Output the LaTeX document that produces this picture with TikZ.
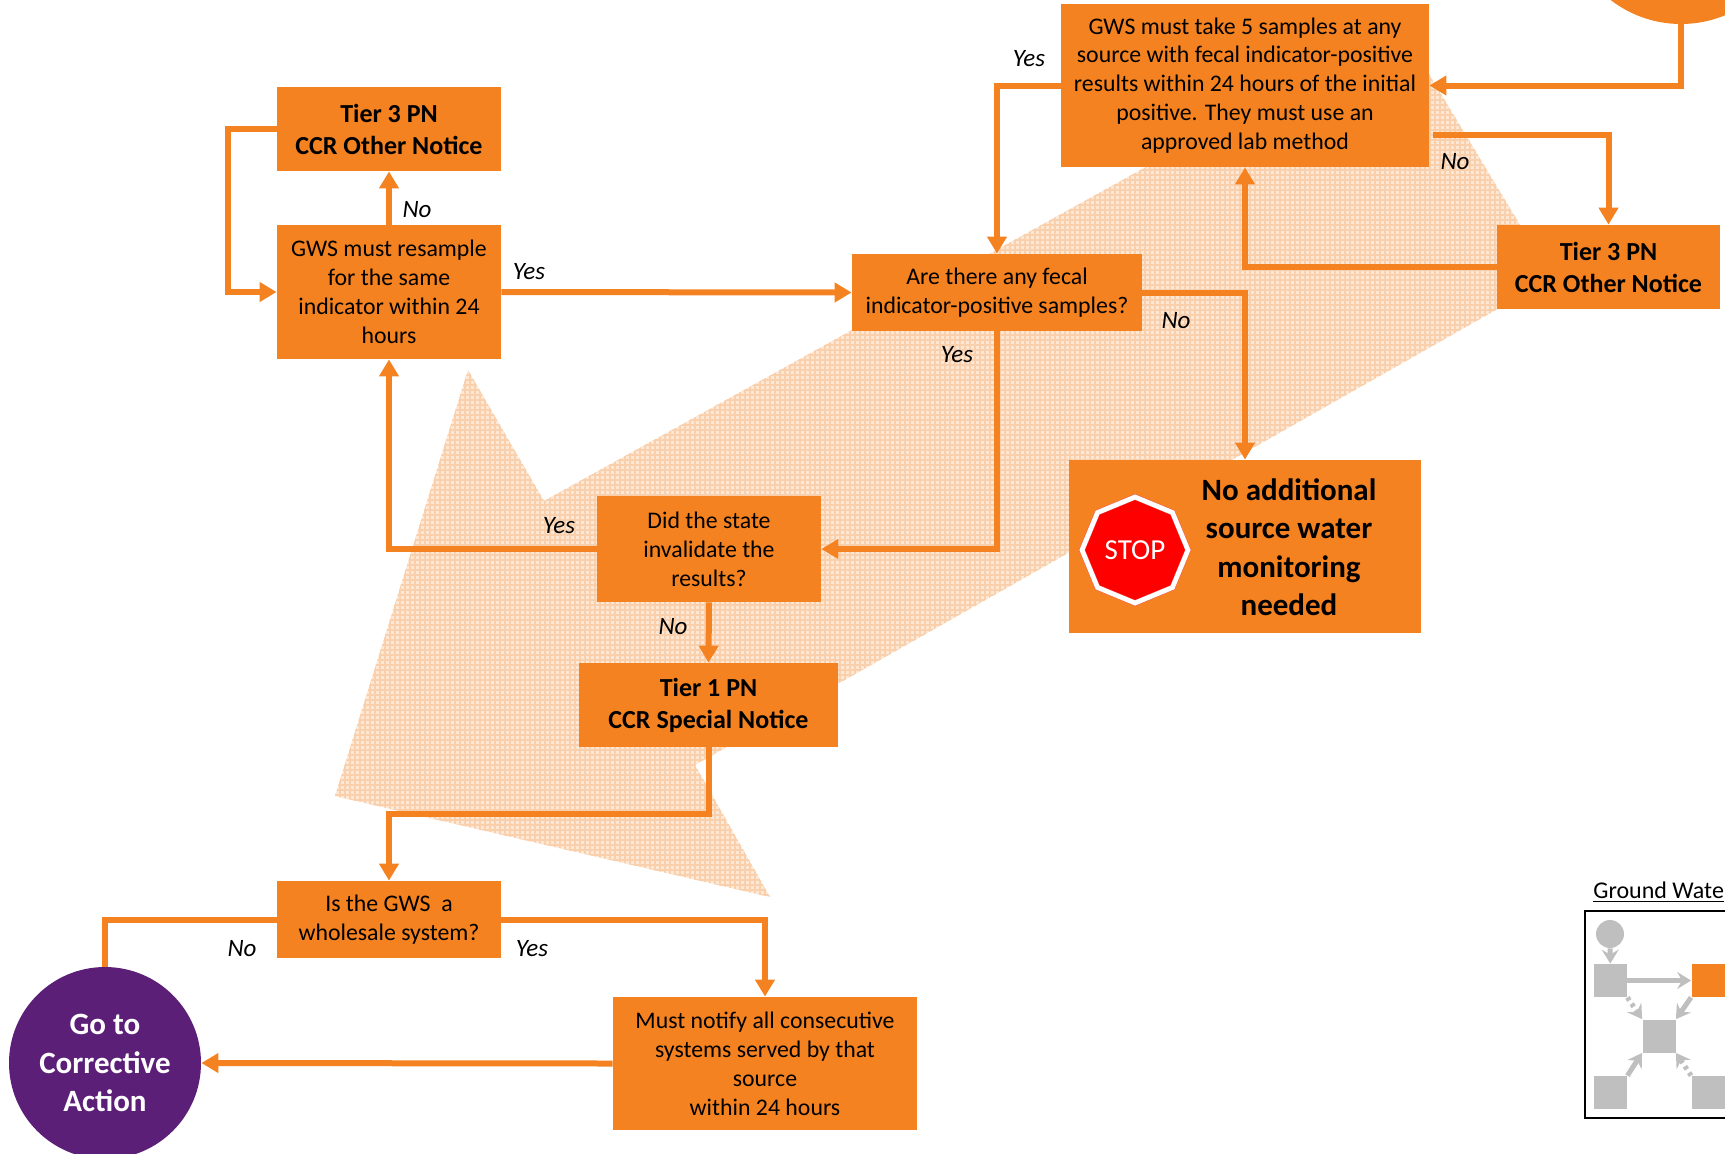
\documentclass[tikz,border=0pt]{standalone}
\usepackage{fontspec}
\setmainfont{Carlito}
\usetikzlibrary{arrows.meta,shapes.geometric}
\definecolor{org}{HTML}{F58220}
\definecolor{purp}{HTML}{5C1F78}
\definecolor{gry}{HTML}{BFBFBF}
\definecolor{patbase}{HTML}{FDE8D6}
\definecolor{patline}{HTML}{FAD0AC}
\definecolor{octedge}{HTML}{F05050}
\tikzset{
  x=0.5pt,y=-0.5pt,
  box/.style={fill=org,inner sep=0pt,align=center,text=black,font=\fontsize{11.9}{14.45}\selectfont},
  boldbox/.style={box,font=\fontsize{13}{16}\selectfont\bfseries},
  flow/.style={draw=org,line width=3pt,-{Triangle[width=9.5pt,length=8.5pt]}},
  plainflow/.style={draw=org,line width=3pt},
  lab/.style={font=\fontsize{12.5}{15}\selectfont\itshape,text=black,inner sep=0pt},
  gsq/.style={fill=gry,minimum size=16.5pt,inner sep=0pt},
  garrow/.style={draw=gry,line width=2.5pt,-{Stealth[width=8.5pt,length=7pt,inset=2.5pt]}},
  gdot/.style={garrow,dash pattern=on 1.8pt off 2pt},
}
\begin{document}
\begin{tikzpicture}
\useasboundingbox (0,0) rectangle (1725,1153);
\clip (0,0) rectangle (1725,1153);
% background star
\begin{scope}
  \path[clip] (468,370) -- (544,501) -- (1400,26) -- (1552,278) -- (695,765) -- (770,897) -- (335,796) -- cycle;
  \fill[patbase] (300,0) rectangle (1600,920);
  \foreach \i in {0,...,260} {
    \draw[patline,line width=1.25pt] ({300+5*\i},0) -- ({300+5*\i},920);
  }
  \foreach \i in {0,...,184} {
    \draw[patline,line width=1.25pt] (300,{5*\i}) -- (1600,{5*\i});
  }
\end{scope}
% nodes
\node[boldbox,minimum width=112pt,minimum height=42pt] (tierL) at (389,129) {Tier 3 PN\\CCR Other Notice};
\node[box,minimum width=112pt,minimum height=67pt] (resample) at (389,292) {GWS must resample\\for the same\\indicator within 24\\hours};
\node[box,minimum width=145pt,minimum height=38.5pt] (are) at (997,292.5) {Are there any fecal\\indicator-positive samples?};
\node[box,minimum width=184pt,minimum height=81.5pt] (take) at (1245,85.5) {GWS must take 5 samples at any\\source with fecal indicator-positive\\results within 24 hours of the initial\\positive. They must use an\\approved lab method};
\node[boldbox,minimum width=111.5pt,minimum height=42pt] (tierR) at (1608.5,267) {Tier 3 PN\\CCR Other Notice};
\node[box,minimum width=176pt,minimum height=86.5pt] (stopbox) at (1245,546.5) {};
\node[box,fill=none,font=\fontsize{15.5}{19.2}\selectfont\bfseries] (stoptext) at (1289,547) {No additional\\source water\\monitoring\\needed};
\node[regular polygon,regular polygon sides=8,shape border rotate=22.5,minimum size=53pt,inner sep=0pt,fill=red,draw=octedge,double=white,double distance=2.4pt,line width=0.2pt,text=white,font=\fontsize{14.5}{17}\selectfont] (octa) at (1135,550) {STOP};
\node[box,minimum width=112pt,minimum height=53pt] (did) at (709,549) {Did the state\\invalidate the\\results?};
\node[boldbox,minimum width=129.5pt,minimum height=42pt] (tierM) at (708.5,705) {Tier 1 PN\\CCR Special Notice};
\node[box,minimum width=112pt,minimum height=38.5pt] (isgws) at (389,919.5) {Is the GWS~~a\\wholesale system?};
\node[box,minimum width=152pt,minimum height=66.5pt] (notify) at (765,1063.5) {Must notify all consecutive\\systems served by that\\source\\within 24 hours};
\node[circle,fill=purp,minimum size=96pt,inner sep=0pt,align=center,text=white,font=\fontsize{15.5}{19.2}\selectfont\bfseries] (purple) at (105,1063) {Go to\\Corrective\\Action};
\node[circle,fill=org,minimum size=115pt,inner sep=0pt] (topcirc) at (1681,-91) {};
% connectors
\coordinate (takeout) at (1433,135);
\draw[flow] (tierL.west) -- ++(-49,0) |- (resample.west);
\draw[flow] (resample.north) -- (tierL.south);
\draw[flow] (resample.east) -- (are.west);
\draw[flow] (are.east) -| (stopbox.north);
\draw[flow] (are.south) |- (did.east);
\draw[flow] (take.west) -| (are.north);
\draw[flow] (topcirc.south) |- (take.east);
\draw[flow] (takeout) -| (tierR.north);
\draw[flow] (tierR.west) -| (take.south);
\draw[flow] (did.west) -| (resample.south);
\draw[flow] (did.south) -- (tierM.north);
\draw[flow] (tierM.south) -- ++(0,67) -| (isgws.north);
\draw[plainflow] (isgws.west) -| (purple.north);
\draw[flow] (isgws.east) -| (notify.north);
\draw[flow] (notify.west) -- (purple.east);
% labels
\node[lab] (l1) at (417,210) {No};
\node[lab] (l2) at (529,272) {Yes};
\node[lab] (l3) at (1029,59) {Yes};
\node[lab] (l4) at (1455,162) {No};
\node[lab] (l5) at (1176,321) {No};
\node[lab] (l6) at (957,355) {Yes};
\node[lab] (l7) at (559,526) {Yes};
\node[lab] (l8) at (673,627) {No};
\node[lab] (l9) at (242,949) {No};
\node[lab] (l10) at (532,949) {Yes};
% legend
\node[anchor=west,inner sep=0pt,text=black,font=\fontsize{12}{14}\selectfont] (legtitle) at (1593,892) {\underline{Ground Wate}};
\draw[black,line width=1pt] (1800,911) -- (1585,911) -- (1585,1118) -- (1800,1118);
\node[circle,fill=gry,minimum size=14pt,inner sep=0pt] (lc) at (1610,934) {};
\node[gsq] (ltl) at (1610.5,980.5) {};
\node[gsq,fill=org] (ltr) at (1708,980.5) {};
\node[gsq] (lm) at (1659,1036) {};
\node[gsq] (lbl) at (1610.5,1092.5) {};
\node[gsq] (lbr) at (1708,1092.5) {};
\draw[garrow] (lc) -- (ltl);
\draw[garrow] (ltl) -- (ltr);
\draw[gdot] (ltl.south east) -- (lm.north west);
\draw[garrow] (ltr.south west) -- (lm.north east);
\draw[garrow] (lbl.north east) -- (lm.south west);
\draw[gdot] (lbr.north west) -- (lm.south east);
\end{tikzpicture}
\end{document}
